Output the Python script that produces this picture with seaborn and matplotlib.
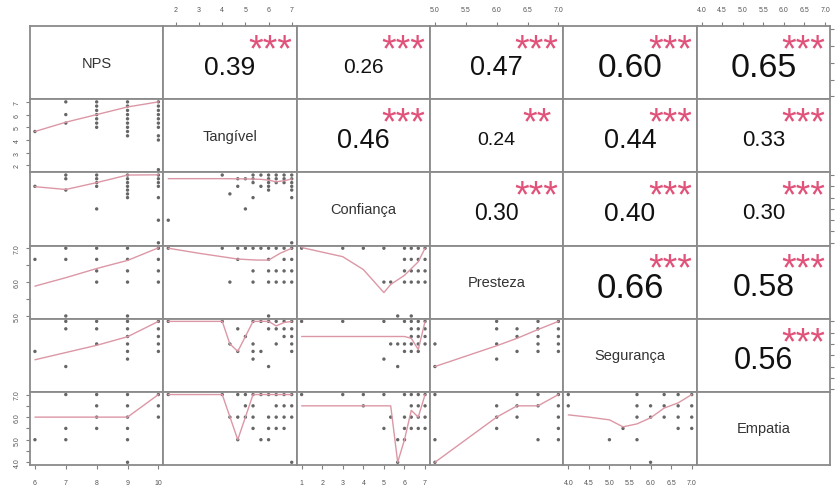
import matplotlib
matplotlib.use("Agg")
import matplotlib.pyplot as plt
import pandas as pd
import seaborn as sns

# Variables on the diagonal and their observed ranges
VARIABLES = ["NPS", "Tangível", "Confiança", "Presteza", "Segurança", "Empatia"]
VAR_MIN = [6, 1.67, 1, 5, 4, 4]
VAR_MAX = [10, 7, 7, 7, 7, 7]
TICKS = [
    [6, 7, 8, 9, 10],
    [2, 3, 4, 5, 6, 7],
    [1, 2, 3, 4, 5, 6, 7],
    [5.0, 5.5, 6.0, 6.5, 7.0],
    [4.0, 4.5, 5.0, 5.5, 6.0, 6.5, 7.0],
    [4.0, 4.5, 5.0, 5.5, 6.0, 6.5, 7.0],
]

# Upper triangle: correlation and significance
CORR = {
    (0, 1): 0.39, (0, 2): 0.26, (0, 3): 0.47, (0, 4): 0.60, (0, 5): 0.65,
    (1, 2): 0.46, (1, 3): 0.24, (1, 4): 0.44, (1, 5): 0.33,
    (2, 3): 0.30, (2, 4): 0.40, (2, 5): 0.30,
    (3, 4): 0.66, (3, 5): 0.58,
    (4, 5): 0.56,
}
STARS = {
    (0, 1): "***", (0, 2): "***", (0, 3): "***", (0, 4): "***", (0, 5): "***",
    (1, 2): "***", (1, 3): "**", (1, 4): "***", (1, 5): "***",
    (2, 3): "***", (2, 4): "***", (2, 5): "***",
    (3, 4): "***", (3, 5): "***",
    (4, 5): "***",
}

# Lower triangle: scatter points {x: [y, ...]} and smoother lines (x, y)
NPS_TANG = {6: [4.67], 7: [7.0, 6.0, 5.33],
            8: [7.0, 6.67, 6.33, 6.0, 5.67, 5.33, 5.0],
            9: [7.0, 6.67, 6.33, 6.0, 5.67, 5.33, 5.0, 4.67, 4.33],
            10: [7.0, 6.67, 6.33, 6.0, 5.67, 5.33, 5.0, 4.33, 4.0, 1.67]}
NPS_TANG_LINE = ([6, 7, 8, 9, 10], [4.67, 5.4, 6.0, 6.6, 7.0])

NPS_CONF = {6: [6.0], 7: [7.0, 6.67, 5.67], 8: [7.0, 6.67, 6.33, 6.0, 4.0],
            9: [7.0, 6.67, 6.33, 6.0, 5.67, 5.33, 5.0],
            10: [7.0, 6.67, 6.33, 6.0, 5.0, 3.0, 1.0]}
NPS_CONF_LINE = ([6, 7, 8, 9, 10], [5.97, 5.72, 6.33, 7.0, 7.02])

TANG_CONF = {1.67: [3.0], 4.0: [7.0], 4.33: [5.33], 4.67: [6.67, 6.0],
             5.0: [6.67, 4.0], 5.33: [7.0, 6.67, 6.33, 5.0], 5.67: [7.0, 6.0],
             6.0: [7.0, 6.67, 6.33, 6.0, 5.67], 6.33: [7.0, 6.67, 6.33],
             6.67: [7.0, 6.67, 6.33], 7.0: [7.0, 6.67, 6.33, 6.0, 5.67, 5.0, 1.0]}
TANG_CONF_LINE = ([1.67, 4.0, 5.0, 5.67, 6.0, 6.33, 6.67, 7.0],
                  [6.68, 6.68, 6.66, 6.62, 6.55, 6.4, 6.5, 6.65])

NPS_PRES = {6: [6.67], 7: [7.0, 6.67, 5.0], 8: [7.0, 6.67, 6.33, 6.0],
            9: [7.0, 6.67, 6.33, 6.0, 5.0], 10: [7.0, 6.67, 6.33, 6.0]}
NPS_PRES_LINE = ([6, 7, 8, 9, 10], [5.88, 6.13, 6.4, 6.64, 7.01])

TANG_PRES = {1.67: [7.0], 4.0: [7.0], 4.33: [6.0], 4.67: [7.0, 6.67], 5.0: [7.0],
             5.33: [7.0, 6.33, 6.0], 5.67: [7.0], 6.0: [7.0, 6.67, 6.33, 6.0, 5.0],
             6.33: [7.0, 6.33, 6.0], 6.67: [7.0, 6.67, 6.33, 6.0],
             7.0: [7.0, 6.67, 6.33, 6.0]}
TANG_PRES_LINE = ([1.67, 3.0, 4.67, 5.5, 6.0, 6.5, 7.0],
                  [7.0, 6.85, 6.68, 6.65, 6.65, 6.85, 7.0])

CONF_PRES = {1.0: [7.0], 3.0: [7.0], 4.0: [7.0], 5.0: [7.0, 6.0], 5.33: [6.0],
             5.67: [5.0], 6.0: [7.0, 6.67, 6.33, 6.0],
             6.33: [7.0, 6.67, 6.33, 6.0, 5.0], 6.67: [7.0, 6.67, 6.33, 6.0],
             7.0: [7.0, 6.67, 6.33, 6.0]}
CONF_PRES_LINE = ([1, 3, 4, 5, 5.33, 6.0, 6.67, 7.0],
                  [7.02, 6.75, 6.37, 5.69, 5.93, 6.2, 6.6, 7.0])

NPS_SEG = {6: [5.67], 7: [7.0, 6.67, 5.0], 8: [7.0, 6.67, 6.0],
           9: [7.0, 6.67, 6.33, 6.0, 5.67, 5.33], 10: [7.0, 6.67, 6.33, 6.0, 5.67]}
NPS_SEG_LINE = ([6, 7, 8, 9, 10], [5.3, 5.62, 5.94, 6.32, 7.0])

TANG_SEG = {1.67: [7.0], 4.0: [7.0], 4.33: [6.0], 4.67: [6.67, 5.67], 5.0: [6.33],
            5.33: [7.0, 6.0, 5.67, 5.33], 5.67: [7.0, 5.67], 6.0: [7.0, 6.67, 5.0],
            6.33: [7.0, 6.67, 6.0], 6.67: [7.0, 6.67, 6.33],
            7.0: [7.0, 6.67, 6.33, 6.0, 5.67]}
TANG_SEG_LINE = ([1.67, 4.0, 4.33, 4.67, 5.0, 5.33, 6.0, 6.33, 6.67, 7.0],
                 [7.0, 7.0, 6.0, 5.67, 6.33, 7.0, 7.0, 6.8, 6.95, 7.0])

CONF_SEG = {1.0: [7.0], 3.0: [7.0], 5.0: [7.0, 5.33], 5.33: [6.0], 5.67: [6.0, 5.0],
            6.0: [7.0, 6.0, 5.67], 6.33: [7.0, 6.67, 6.33, 6.0, 5.67],
            6.67: [7.0, 6.67, 6.33, 6.0, 5.67], 7.0: [7.0, 6.67, 6.33, 6.0]}
CONF_SEG_LINE = ([1, 3, 5, 6.0, 6.33, 6.67, 7.0],
                 [6.33, 6.33, 6.33, 6.33, 6.25, 5.75, 7.0])

PRES_SEG = {5.0: [6.0, 5.0], 6.0: [7.0, 6.67, 6.0, 5.33], 6.33: [6.67, 6.33, 5.67],
            6.67: [7.0, 6.67, 6.33, 6.0, 5.67], 7.0: [7.0, 6.67, 6.33, 6.0, 5.67]}
PRES_SEG_LINE = ([5.0, 6.0, 6.33, 6.67, 7.0], [5.0, 5.92, 6.25, 6.64, 7.0])

NPS_EMP = {6: [5.0], 7: [7.0, 5.5, 5.0], 8: [7.0, 6.5, 6.0, 5.5],
           9: [7.0, 6.5, 6.0, 5.5, 5.0, 4.0], 10: [7.0, 6.5, 6.0]}
NPS_EMP_LINE = ([6, 7, 8, 9, 10], [6.0, 6.0, 6.0, 6.0, 7.0])

TANG_EMP = {1.67: [7.0], 4.0: [7.0], 4.33: [6.0], 4.67: [7.0, 6.0, 5.0],
            5.0: [7.0, 6.5, 6.0], 5.33: [7.0, 6.5, 6.0, 5.5], 5.67: [7.0, 5.0],
            6.0: [7.0, 6.0, 5.5, 5.0], 6.33: [7.0, 6.5, 6.0, 5.5],
            6.67: [7.0, 6.5, 6.0, 5.5], 7.0: [7.0, 6.5, 6.0, 4.0]}
TANG_EMP_LINE = ([1.67, 4.0, 4.67, 5.33, 6.0, 7.0], [7.0, 7.0, 5.0, 7.0, 7.0, 7.0])

CONF_EMP = {1.0: [7.0], 3.0: [7.0], 4.0: [7.0, 6.5], 5.0: [7.0, 5.5], 5.33: [6.0],
            5.67: [5.0, 4.0], 6.0: [7.0, 6.0, 5.5, 5.0], 6.33: [7.0, 6.5, 6.0, 5.5],
            6.67: [7.0, 6.5, 6.0, 5.5], 7.0: [7.0, 6.5, 6.0, 5.5]}
CONF_EMP_LINE = ([1, 3, 4, 5, 5.33, 5.67, 6.0, 6.33, 6.67, 7.0],
                 [6.5, 6.5, 6.5, 6.5, 6.5, 4.0, 5.0, 6.3, 6.0, 7.0])

PRES_EMP = {5.0: [7.0, 5.0, 4.0], 6.0: [6.5, 6.0, 5.5], 6.33: [7.0, 6.5, 6.0],
            6.67: [7.0, 6.5, 5.0], 7.0: [7.0, 6.5, 6.0, 5.5, 5.0]}
PRES_EMP_LINE = ([5.0, 6.0, 6.33, 6.67, 7.0], [4.0, 6.0, 6.5, 6.5, 7.0])

SEG_EMP = {4.0: [7.0, 6.5], 5.0: [5.0], 5.33: [5.5], 5.67: [7.0, 6.5, 6.0, 5.0],
           6.0: [6.5, 6.0, 4.0], 6.33: [7.0, 6.5, 6.0], 6.67: [7.0, 6.5, 6.0, 5.5],
           7.0: [7.0, 6.5, 6.0, 5.5]}
SEG_EMP_LINE = ([4.0, 4.5, 5.0, 5.33, 5.67, 6.0, 6.33, 6.67, 7.0],
                [6.1, 6.0, 5.88, 5.57, 5.7, 5.97, 6.4, 6.63, 7.0])

LOWER = {
    (1, 0): (NPS_TANG, NPS_TANG_LINE),
    (2, 0): (NPS_CONF, NPS_CONF_LINE), (2, 1): (TANG_CONF, TANG_CONF_LINE),
    (3, 0): (NPS_PRES, NPS_PRES_LINE), (3, 1): (TANG_PRES, TANG_PRES_LINE),
    (3, 2): (CONF_PRES, CONF_PRES_LINE),
    (4, 0): (NPS_SEG, NPS_SEG_LINE), (4, 1): (TANG_SEG, TANG_SEG_LINE),
    (4, 2): (CONF_SEG, CONF_SEG_LINE), (4, 3): (PRES_SEG, PRES_SEG_LINE),
    (5, 0): (NPS_EMP, NPS_EMP_LINE), (5, 1): (TANG_EMP, TANG_EMP_LINE),
    (5, 2): (CONF_EMP, CONF_EMP_LINE), (5, 3): (PRES_EMP, PRES_EMP_LINE),
    (5, 4): (SEG_EMP, SEG_EMP_LINE),
}

# Style
COR_SIZE = {
    (0, 1): 19, (0, 2): 15, (0, 3): 19.5, (0, 4): 24, (0, 5): 24.5,
    (1, 2): 19.5, (1, 3): 14, (1, 4): 19.5, (1, 5): 16,
    (2, 3): 16.5, (2, 4): 19, (2, 5): 16,
    (3, 4): 25, (3, 5): 23,
    (4, 5): 22,
}
STAR_SIZE = 27
STAR_COLOR = "#E0527A"
FRAME = "#8a8a8a"
DOT = "#666666"
SMOOTH = "#DC97A6"


def fmt(ticks):
    if all(float(t).is_integer() for t in ticks):
        return [f"{int(t)}" for t in ticks]
    return [f"{t:.1f}" for t in ticks]


sns.set_theme(style="white")
plt.rcParams["font.family"] = ["Liberation Sans", "DejaVu Sans"]

fig, axes = plt.subplots(6, 6, figsize=(8.4, 4.89), dpi=100)
fig.subplots_adjust(left=30 / 840, right=830 / 840, top=1 - 27 / 489,
                    bottom=1 - 466 / 489, wspace=0, hspace=0)

lims = []
for lo, hi in zip(VAR_MIN, VAR_MAX):
    pad = 0.04 * (hi - lo)
    lims.append((lo - pad, hi + pad))

n = len(VARIABLES)
tick_kw = dict(which="both", length=3, width=0.8, color="#808080",
               labelsize=5, labelcolor="#555555", direction="out")

for i in range(n):
    for j in range(n):
        ax = axes[i, j]
        if (i, j) in LOWER:
            pts, line = LOWER[(i, j)]
            df = pd.DataFrame([(x, y) for x, ys in pts.items() for y in ys],
                              columns=["x", "y"])
            sns.scatterplot(data=df, x="x", y="y", ax=ax, s=6, color=DOT,
                            edgecolor="none", legend=False)
            sns.lineplot(x=line[0], y=line[1], ax=ax, color=SMOOTH,
                         linewidth=1.0, sort=False, estimator=None)
        elif i == j:
            ax.text(0.5, 0.5, VARIABLES[i], transform=ax.transAxes,
                    ha="center", va="center", fontsize=10.5, color="#333333")
        else:
            ax.text(0.5, 0.48, f"{CORR[(i, j)]:.2f}", transform=ax.transAxes,
                    ha="center", va="center_baseline",
                    fontsize=COR_SIZE[(i, j)], color="#111111")
            ax.annotate(STARS[(i, j)], xy=(0.8, 0.84), xycoords="axes fraction",
                        xytext=(0, -0.6 * STAR_SIZE), textcoords="offset points",
                        ha="center", va="baseline", fontsize=STAR_SIZE,
                        color=STAR_COLOR)

        ax.set_xlim(lims[j])
        ax.set_ylim(lims[i])
        ax.set_xlabel("")
        ax.set_ylabel("")
        ax.set_xticks([])
        ax.set_yticks([])
        for sp in ax.spines.values():
            sp.set_color(FRAME)
            sp.set_linewidth(1.3)

        # outer axes, alternating like R's pairs()
        if i == 0 and j % 2 == 1:
            ax.set_xticks(TICKS[j], fmt(TICKS[j]))
            ax.tick_params(axis="x", top=True, labeltop=True, bottom=False,
                           labelbottom=False, pad=6, **tick_kw)
        if i == n - 1 and j % 2 == 0:
            ax.set_xticks(TICKS[j], fmt(TICKS[j]))
            ax.tick_params(axis="x", bottom=True, labelbottom=True, top=False,
                           pad=7, **tick_kw)
        if j == 0 and i % 2 == 1:
            labs = [lab if float(t).is_integer() else ""
                    for t, lab in zip(TICKS[i], fmt(TICKS[i]))]
            ax.set_yticks(TICKS[i], labs)
            ax.tick_params(axis="y", left=True, labelleft=True, right=False,
                           pad=3.5, **tick_kw)
            for lab in ax.get_yticklabels():
                lab.set_rotation(90)
                lab.set_va("center")
        if j == n - 1 and i % 2 == 0:
            ax.set_yticks(TICKS[i])
            ax.tick_params(axis="y", right=True, labelright=False, left=False,
                           labelleft=False, **tick_kw)

fig.savefig("out.png", dpi=100, facecolor="white")
